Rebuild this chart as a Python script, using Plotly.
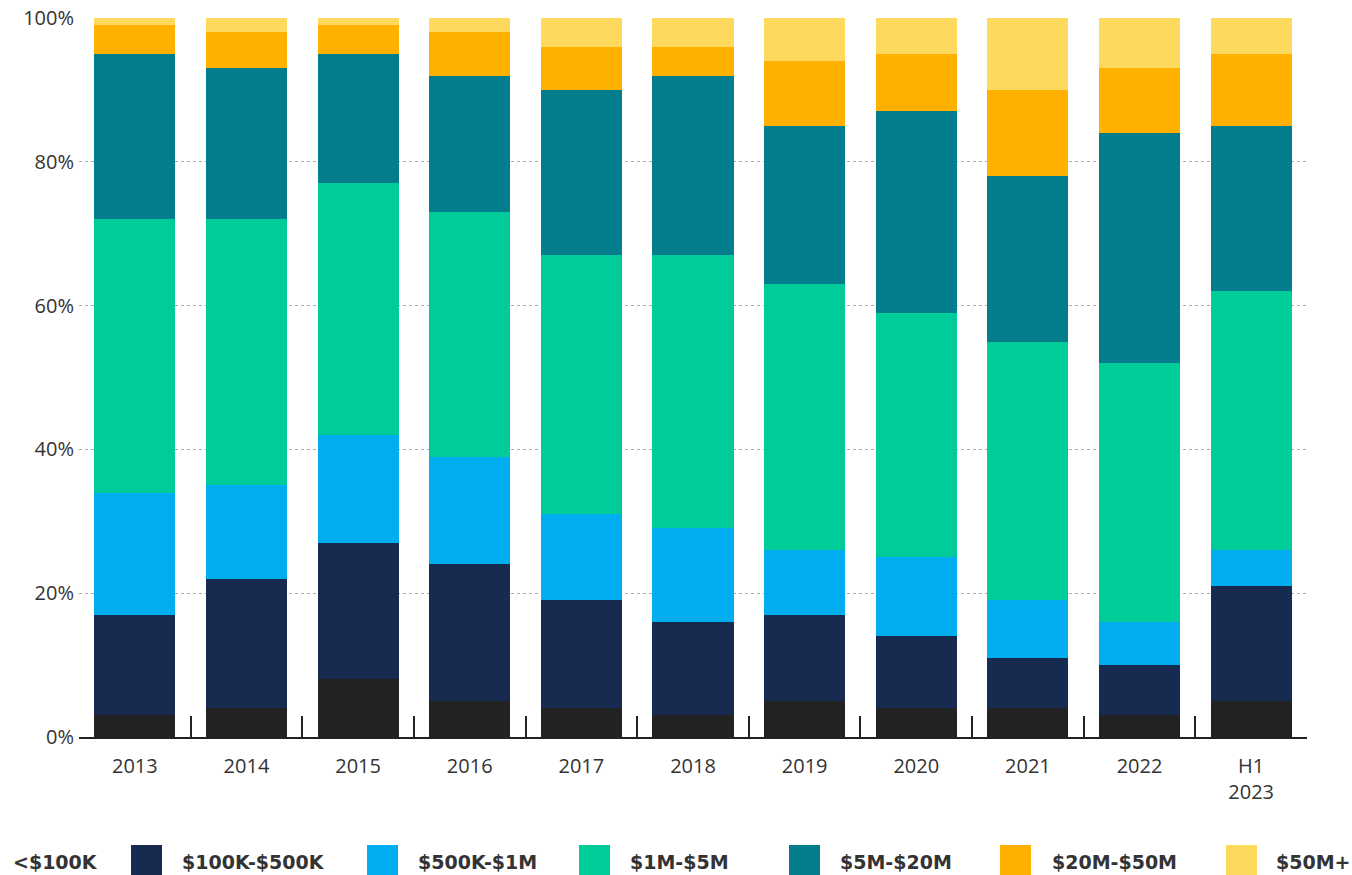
import plotly.graph_objects as go

# Share of deals by size band, per year (percent of total)
years = ["2013", "2014", "2015", "2016", "2017", "2018", "2019", "2020", "2021", "2022", "H1<br>2023"]

lt_100k = [3, 4, 8, 5, 4, 3, 5, 4, 4, 3, 5]
k100_500 = [14, 18, 19, 19, 15, 13, 12, 10, 7, 7, 16]
k500_1m = [17, 13, 15, 15, 12, 13, 9, 11, 8, 6, 5]
m1_5 = [38, 37, 35, 34, 36, 38, 37, 34, 36, 36, 36]
m5_20 = [23, 21, 18, 19, 23, 25, 22, 28, 23, 32, 23]
m20_50 = [4, 5, 4, 6, 6, 4, 9, 8, 12, 9, 10]
m50_plus = [1, 2, 1, 2, 4, 4, 6, 5, 10, 7, 5]

series_names = ["<$100K", "$100K-$500K", "$500K-$1M", "$1M-$5M", "$5M-$20M", "$20M-$50M", "$50M+"]
series_values = [lt_100k, k100_500, k500_1m, m1_5, m5_20, m20_50, m50_plus]
series_colors = ["#222222", "#172a50", "#00adee", "#00cc99", "#037c8b", "#ffb000", "#fdda5e"]

W, H = 1352, 875
L, R, T, B = 79, 45, 18, 138
FONT = "Open Sans"
LEGEND_FONT = "DejaVu Sans"
TEXT = "#333333"

fig = go.Figure()
for name, vals, col in zip(series_names, series_values, series_colors):
    fig.add_trace(go.Bar(
        x=years, y=vals, name=name, marker=dict(color=col, line=dict(width=0)),
        hoverinfo="x+y+name", showlegend=False,
    ))

fig.update_layout(
    barmode="stack",
    bargap=0.274,
    width=W, height=H,
    margin=dict(l=L, r=R, t=T, b=B, pad=0, autoexpand=False),
    paper_bgcolor="white", plot_bgcolor="white",
    font=dict(family=FONT, color=TEXT, size=20),
)

fig.update_yaxes(
    range=[0, 100],
    tickvals=[0, 20, 40, 60, 80, 100],
    ticktext=["0%", "20%", "40%", "60%", "80%", "100%"],
    showgrid=True, gridcolor="#aaaaaa", griddash="dot", gridwidth=1,
    zeroline=False, showline=False, ticks="",
    ticklabelstandoff=4, automargin=False,
    tickfont=dict(size=20, family=FONT, color=TEXT),
)

fig.update_xaxes(
    showline=True, linecolor="#222222", linewidth=1.5,
    ticks="inside", tickson="boundaries", ticklen=21, tickwidth=1.5, tickcolor="#222222",
    showgrid=False, automargin=False,
    tickfont=dict(size=20, family=FONT, color=TEXT),
    ticklabelstandoff=10,
)

# Legend drawn as swatches + labels along the bottom edge
def px_x(px):
    return (px - L) / (W - L - R)

def px_y(py):
    return (H - B - py) / (H - T - B)

legend_items = [
    (None, 11, series_names[0]),
    (131, 180, series_names[1]),
    (367, 416, series_names[2]),
    (579, 628, series_names[3]),
    (789, 838, series_names[4]),
    (1000, 1050, series_names[5]),
    (1226, 1274, series_names[6]),
]
for (sw_x, tx_x, label), col in zip(legend_items, series_colors):
    if sw_x is not None:
        fig.add_shape(
            type="rect", xref="paper", yref="paper",
            x0=px_x(sw_x), x1=px_x(sw_x + 31), y0=px_y(877), y1=px_y(845),
            fillcolor=col, line=dict(width=0), layer="above",
        )
    fig.add_annotation(
        xref="paper", yref="paper", x=px_x(tx_x), y=px_y(862),
        xanchor="left", yanchor="middle", showarrow=False,
        text="<b>" + label + "</b>",
        font=dict(family=LEGEND_FONT, size=19, color=TEXT),
    )

fig.write_html("out.html")
